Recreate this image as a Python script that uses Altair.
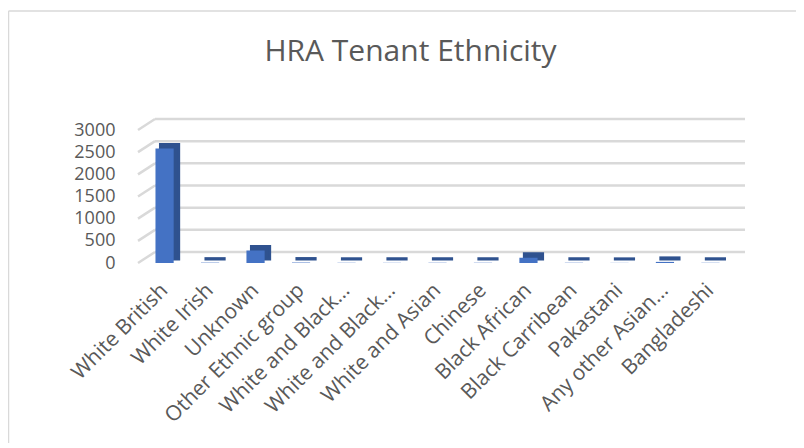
import altair as alt
import pandas as pd

categories = ["White British", "White Irish", "Unknown", "Other Ethnic group",
              "White and Black…", "White and Black… ", "White and Asian", "Chinese",
              "Black African", "Black Carribean", "Pakastani", "Any other Asian…",
              "Bangladeshi"]
counts = [2580, 8, 282, 10, 5, 4, 3, 4, 120, 8, 3, 25, 5]
tick_values = [0, 500, 1000, 1500, 2000, 2500, 3000]

df = pd.DataFrame({"cat": categories, "n": counts})
grid = pd.DataFrame({"v": tick_values})

W, H = 615, 133
GRID = "#d9d9d9"
TXT = "#595959"

xenc = alt.X("cat:N", sort=categories, title=None,
             scale=alt.Scale(paddingInner=0.6, paddingOuter=0.56),
             axis=alt.Axis(labelAngle=-45, labelAlign="right", labelBaseline="middle",
                           labelFontSize=21, labelColor=TXT, labelFont="Open Sans",
                           labelPadding=24, domain=False, ticks=False, labelLimit=300,
                           grid=False))
yscale = alt.Scale(domain=[0, 3000], nice=False)
yaxis = alt.Axis(values=tick_values, format="d", labelOverlap=False,
                 labelFontSize=18, labelColor=TXT,
                 labelFont="Open Sans", labelPadding=15, domain=False,
                 ticks=False, grid=False)
yenc = alt.Y("n:Q", scale=yscale, title=None, axis=yaxis)

base = alt.Chart(df)

top_border = alt.Chart(grid).transform_filter("datum.v == 0").mark_rule(
    color=GRID, strokeWidth=1.5).encode(
    x=alt.value(-121.5), x2=alt.value(720), y=alt.value(-119))
left_border = alt.Chart(grid).transform_filter("datum.v == 0").mark_rule(
    color=GRID, strokeWidth=1.5).encode(
    x=alt.value(-121.5), y=alt.value(-119), y2=alt.value(340))

hgrid = alt.Chart(grid).mark_rule(color=GRID, strokeWidth=2.5, yOffset=-11).encode(
    x=alt.value(25), x2=alt.value(W),
    y=alt.Y("v:Q", scale=yscale, title=None, axis=yaxis),
)
dgrid = alt.Chart(grid).transform_calculate(vb="datum.v + 248").mark_rule(
    color=GRID, strokeWidth=2.5).encode(
    x=alt.value(8), x2=alt.value(25),
    y=alt.Y("v:Q", scale=yscale, title=None, axis=yaxis), y2="vb:Q",
)

back = base.mark_bar(color="#2F528F", stroke="#2F528F", strokeWidth=3,
                     xOffset=5, yOffset=-4).encode(x=xenc, y=yenc)
front = base.mark_bar(color="#4472C4").encode(x=xenc, y=yenc)

chart = alt.layer(top_border, left_border, hgrid, dgrid, back, front).properties(
    width=W, height=H,
    background="white",
    autosize=alt.AutoSizeParams(type="none"),
    padding={"left": 122, "top": 122, "right": 51, "bottom": 180},
    title=alt.TitleParams("HRA Tenant Ethnicity", fontSize=30, font="Open Sans",
                          fontWeight="normal", color=TXT, anchor="middle",
                          frame="group", dx=-27, offset=-81, baseline="alphabetic"),
).configure_view(strokeWidth=0, stroke="transparent")

chart.save("out.html", embed_options={"renderer": "svg", "actions": False})
